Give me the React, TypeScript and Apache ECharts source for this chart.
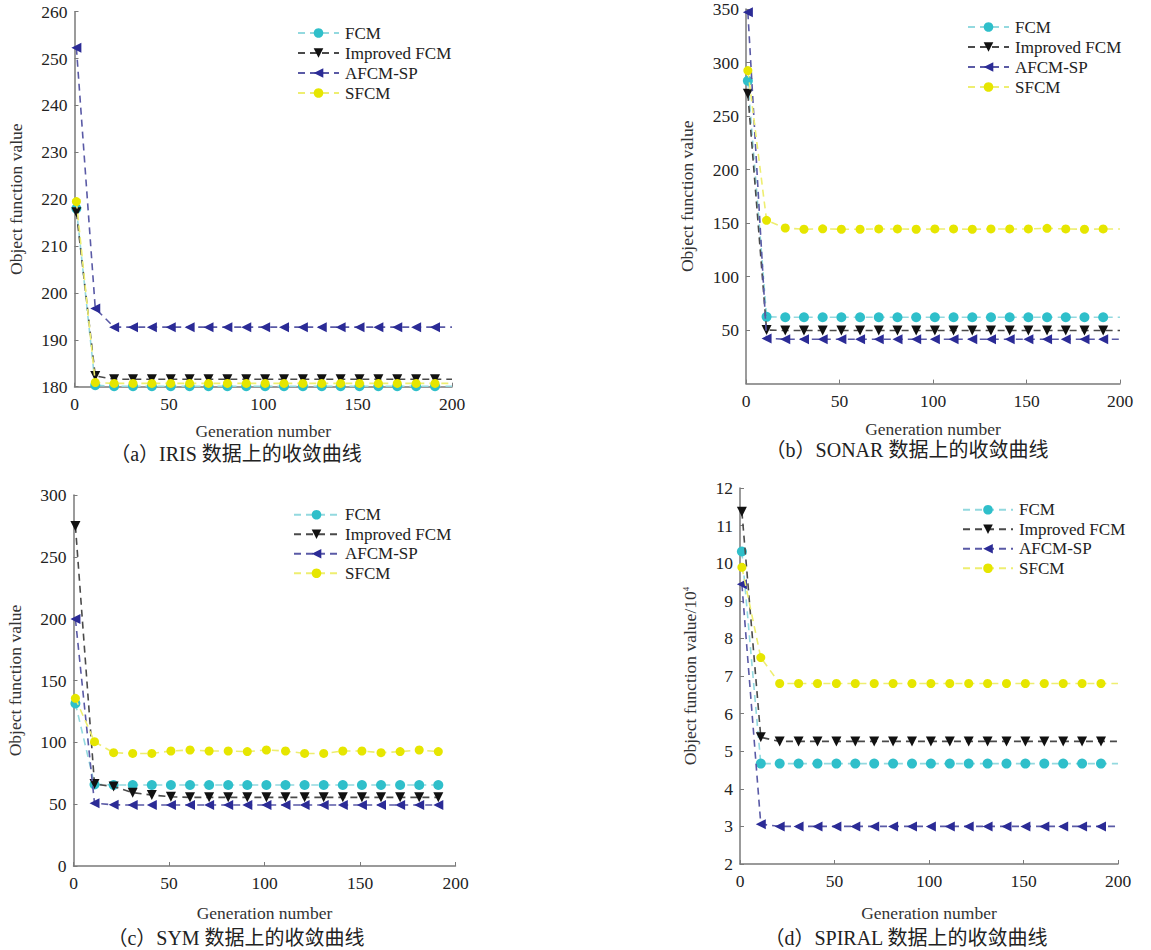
import React, { useEffect, useRef } from "react";
import * as echarts from "echarts";

// Generation numbers at which markers were drawn
const GENS = [1, 11, 21, 31, 41, 51, 61, 71, 81, 91, 101, 111, 121, 131, 141, 151, 161, 171, 181, 191];
const X_TICKS = [0, 50, 100, 150, 200];
const SERIES_NAMES = ["FCM", "Improved FCM", "AFCM-SP", "SFCM"];

// (a) IRIS
const IRIS_FCM = [218.0, 180.3, 180.1, 180.1, 180.1, 180.1, 180.1, 180.1, 180.1, 180.1, 180.1, 180.1, 180.1, 180.1, 180.1, 180.1, 180.1, 180.1, 180.1, 180.1];
const IRIS_IMPROVED = [217.2, 182.3, 181.6, 181.6, 181.6, 181.6, 181.6, 181.6, 181.6, 181.6, 181.6, 181.6, 181.6, 181.6, 181.6, 181.6, 181.6, 181.6, 181.6, 181.6];
const IRIS_AFCMSP = [252.3, 196.7, 192.7, 192.7, 192.7, 192.7, 192.7, 192.7, 192.7, 192.7, 192.7, 192.7, 192.7, 192.7, 192.7, 192.7, 192.7, 192.7, 192.7, 192.7];
const IRIS_SFCM = [219.5, 180.9, 180.7, 180.7, 180.7, 180.7, 180.7, 180.7, 180.7, 180.7, 180.7, 180.7, 180.7, 180.7, 180.7, 180.7, 180.7, 180.7, 180.7, 180.7];

// (b) SONAR
const SONAR_FCM = [283, 62.4, 62, 62, 62, 62, 62, 62, 62, 62, 62, 62, 62, 62, 62, 62, 62, 62, 62, 62];
const SONAR_IMPROVED = [270.7, 50, 49.6, 49.6, 49.6, 49.6, 49.6, 49.6, 49.6, 49.6, 49.6, 49.6, 49.6, 49.6, 49.6, 49.6, 49.6, 49.6, 49.6, 49.6];
const SONAR_AFCMSP = [347, 42.2, 41.5, 41.5, 41.5, 41.5, 41.5, 41.5, 41.5, 41.5, 41.5, 41.5, 41.5, 41.5, 41.5, 41.5, 41.5, 41.5, 41.5, 41.5];
const SONAR_SFCM = [292.5, 152.6, 145.4, 144.2, 144.6, 144.2, 144.2, 144.5, 144.5, 144.2, 144.5, 144.5, 144.2, 144.5, 144.5, 144.5, 145.1, 144.5, 144.2, 144.5];

// (c) SYM
const SYM_FCM = [131.5, 66, 65.5, 65.5, 65.5, 65.5, 65.5, 65.5, 65.5, 65.5, 65.5, 65.5, 65.5, 65.5, 65.5, 65.5, 65.5, 65.5, 65.5, 65.5];
const SYM_IMPROVED = [275, 66.3, 64.2, 59.3, 57.4, 56, 55.5, 55.5, 55.5, 55.5, 55.5, 55.5, 55.5, 55.5, 55.5, 55.5, 55.5, 55.5, 55.5, 55.5];
const SYM_AFCMSP = [199.7, 50.7, 49.5, 49.3, 49.3, 49.3, 49.3, 49.3, 49.3, 49.3, 49.3, 49.3, 49.3, 49.3, 49.3, 49.3, 49.3, 49.3, 49.3, 49.3];
const SYM_SFCM = [135.6, 100.5, 91.6, 91, 91, 93, 93.8, 93, 93, 92.5, 93.8, 93, 91, 91, 93, 93, 91.6, 92.5, 93.8, 92.5];

// (d) SPIRAL (x 10^4)
const SPIRAL_FCM = [10.31, 4.67, 4.67, 4.67, 4.67, 4.67, 4.67, 4.67, 4.67, 4.67, 4.67, 4.67, 4.67, 4.67, 4.67, 4.67, 4.67, 4.67, 4.67, 4.67];
const SPIRAL_IMPROVED = [11.37, 5.37, 5.26, 5.26, 5.26, 5.26, 5.26, 5.26, 5.26, 5.26, 5.26, 5.26, 5.26, 5.26, 5.26, 5.26, 5.26, 5.26, 5.26, 5.26];
const SPIRAL_AFCMSP = [9.44, 3.06, 3.0, 3.0, 3.0, 3.0, 3.0, 3.0, 3.0, 3.0, 3.0, 3.0, 3.0, 3.0, 3.0, 3.0, 3.0, 3.0, 3.0, 3.0];
const SPIRAL_SFCM = [9.89, 7.49, 6.8, 6.8, 6.8, 6.8, 6.8, 6.8, 6.8, 6.8, 6.8, 6.8, 6.8, 6.8, 6.8, 6.8, 6.8, 6.8, 6.8, 6.8];

const SERIF = "'Liberation Serif', 'DejaVu Serif', serif";
const CAPTION_FONT = "'Liberation Serif', 'Noto Sans CJK SC', serif";

const STYLES = [
  { color: "#2fbfca", line: "#93d9df", symbol: "circle", rotate: 0, size: 10 },
  { color: "#111111", line: "#4a4a4a", symbol: "triangle", rotate: 180, size: 10 },
  { color: "#2b2b96", line: "#5a5aa6", symbol: "triangle", rotate: 90, size: 10 },
  { color: "#e6e600", line: "#eeee70", symbol: "circle", rotate: 0, size: 9 },
];

type Panel = {
  caption: string;
  yName: string;
  yMin: number;
  yMax: number;
  yInterval: number;
  hideMinLabel: boolean;
  extendTo200: boolean;
  values: number[][];
  grid: { left: number; top: number; width: number; height: number };
  legend: { left: number; top: number; itemWidth: number; lineHeight: number };
  yNameGap: number;
  xNameGap: number;
  captionPos: [number, number];
};

const PANELS: Panel[] = [
  {
    caption: "（a）IRIS 数据上的收敛曲线",
    yName: "Object function value",
    yMin: 180, yMax: 260, yInterval: 10, hideMinLabel: false, extendTo200: true,
    values: [IRIS_FCM, IRIS_IMPROVED, IRIS_AFCMSP, IRIS_SFCM],
    grid: { left: 74.5, top: 11.7, width: 377.5, height: 375 },
    legend: { left: 297, top: 23, itemWidth: 41, lineHeight: 20 },
    yNameGap: 50, xNameGap: 35, captionPos: [236, 454],
  },
  {
    caption: "（b）SONAR 数据上的收敛曲线",
    yName: "Object function value",
    yMin: 0, yMax: 350, yInterval: 50, hideMinLabel: true, extendTo200: true,
    values: [SONAR_FCM, SONAR_IMPROVED, SONAR_AFCMSP, SONAR_SFCM],
    grid: { left: 746, top: 8.3, width: 374, height: 375.3 },
    legend: { left: 967, top: 17, itemWidth: 41, lineHeight: 20 },
    yNameGap: 50, xNameGap: 36, captionPos: [907, 450],
  },
  {
    caption: "（c）SYM 数据上的收敛曲线",
    yName: "Object function value",
    yMin: 0, yMax: 300, yInterval: 50, hideMinLabel: false, extendTo200: false,
    values: [SYM_FCM, SYM_IMPROVED, SYM_AFCMSP, SYM_SFCM],
    grid: { left: 73.5, top: 495, width: 382, height: 371 },
    legend: { left: 293, top: 505, itemWidth: 45, lineHeight: 19.5 },
    yNameGap: 50, xNameGap: 38, captionPos: [236, 938],
  },
  {
    caption: "（d）SPIRAL 数据上的收敛曲线",
    yName: "Object function value/10{sup|4}",
    yMin: 2, yMax: 12, yInterval: 1, hideMinLabel: false, extendTo200: true,
    values: [SPIRAL_FCM, SPIRAL_IMPROVED, SPIRAL_AFCMSP, SPIRAL_SFCM],
    grid: { left: 740, top: 488, width: 378, height: 376 },
    legend: { left: 962, top: 500, itemWidth: 50, lineHeight: 19.5 },
    yNameGap: 41, xNameGap: 40, captionPos: [906, 938],
  },
];

function buildOption() {
  const grid: any[] = [];
  const xAxis: any[] = [];
  const yAxis: any[] = [];
  const series: any[] = [];
  const legend: any[] = [];
  const graphic: any[] = [];

  PANELS.forEach((p, pi) => {
    grid.push({ ...p.grid, containLabel: false });
    xAxis.push({
      type: "value",
      gridIndex: pi,
      min: X_TICKS[0],
      max: X_TICKS[X_TICKS.length - 1],
      interval: X_TICKS[1] - X_TICKS[0],
      name: "Generation number",
      nameLocation: "middle",
      nameGap: p.xNameGap,
      nameTextStyle: { fontFamily: SERIF, fontSize: 17.5, color: "#333" },
      axisLine: { show: true, onZero: false, lineStyle: { color: "#7a7a7a", width: 1.5 } },
      axisTick: { show: true, inside: true, length: 4, lineStyle: { color: "#7a7a7a" } },
      axisLabel: { fontFamily: SERIF, fontSize: 17.5, color: "#222", margin: 8 },
      splitLine: { show: false },
    });
    yAxis.push({
      type: "value",
      gridIndex: pi,
      min: p.yMin,
      max: p.yMax,
      interval: p.yInterval,
      name: p.yName,
      nameLocation: "middle",
      nameGap: p.yNameGap,
      nameRotate: 90,
      nameTextStyle: {
        fontFamily: SERIF,
        fontSize: 17.5,
        color: "#333",
        rich: { sup: { fontFamily: SERIF, fontSize: 9, verticalAlign: "top", color: "#333", padding: [0, 0, 6, 0] } },
      },
      axisLine: { show: true, onZero: false, lineStyle: { color: "#7a7a7a", width: 1.5 } },
      axisTick: { show: true, inside: true, length: 4, lineStyle: { color: "#7a7a7a" } },
      axisLabel: { fontFamily: SERIF, fontSize: 17.5, color: "#222", margin: 7, showMinLabel: !p.hideMinLabel },
      splitLine: { show: false },
    });

    p.values.forEach((vals, si) => {
      const st = STYLES[si];
      const data: any[] = GENS.map((g, i) => [g, vals[i]]);
      if (p.extendTo200) {
        data.push({ value: [X_TICKS[X_TICKS.length - 1], vals[vals.length - 1]], symbol: "none" });
      }
      series.push({
        type: "line",
        name: SERIES_NAMES[si],
        xAxisIndex: pi,
        yAxisIndex: pi,
        data,
        clip: false,
        symbol: st.symbol,
        symbolSize: st.size,
        symbolRotate: st.rotate,
        showAllSymbol: true,
        itemStyle: { color: st.color },
        lineStyle: { color: st.line, width: 1.6, type: [7, 5] },
        z: 2 + si,
      });
    });

    legend.push({
      orient: "vertical",
      left: p.legend.left,
      top: p.legend.top,
      itemWidth: p.legend.itemWidth,
      itemHeight: 12,
      itemGap: 0,
      padding: 0,
      selectedMode: false,
      data: SERIES_NAMES.map((n) => ({ name: n })),
      textStyle: { fontFamily: SERIF, fontSize: 17, color: "#222", lineHeight: p.legend.lineHeight, padding: [0, 0, 0, 1] },
    });

    graphic.push({
      type: "text",
      x: p.captionPos[0],
      y: p.captionPos[1],
      style: {
        text: p.caption,
        font: `20px ${CAPTION_FONT}`,
        fill: "#222",
        align: "center",
        verticalAlign: "middle",
        textAlign: "center",
        textVerticalAlign: "middle",
      },
    });
  });

  return {
    animation: false,
    backgroundColor: "#ffffff",
    grid,
    xAxis,
    yAxis,
    series,
    legend,
    graphic,
  };
}

export default function App() {
  const ref = useRef<HTMLDivElement | null>(null);
  useEffect(() => {
    if (!ref.current) return;
    const chart = echarts.init(ref.current, undefined, { renderer: "svg" });
    chart.setOption(buildOption() as any);
    return () => {
      chart.dispose();
    };
  }, []);
  return (
    <div
      ref={ref}
      style={{ position: "fixed", left: 0, top: 0, width: 1151, height: 950, background: "#fff" }}
    />
  );
}
